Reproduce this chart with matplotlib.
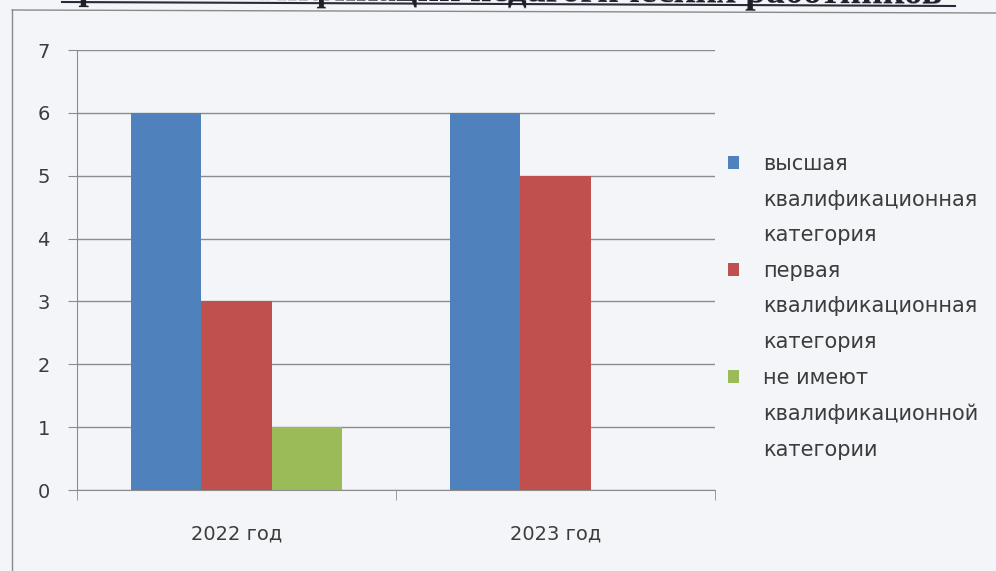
import matplotlib.pyplot as plt
from matplotlib.patches import Patch
from matplotlib.lines import Line2D
import numpy as np

# данные диаграммы
years = ["2022 год", "2023 год"]
categories = [
    "высшая\nквалификационная\nкатегория",
    "первая\nквалификационная\nкатегория",
    "не имеют\nквалификационной\nкатегории",
]
vysshaya = [6, 6]
pervaya = [3, 5]
net_kategorii = [1, 0]
series = [vysshaya, pervaya, net_kategorii]
colors = ["#4F81BD", "#C0504D", "#9BBB59"]
title = "Уровень квалификации педагогических работников"

bg = "#f4f5f8"
grid_c = "#8c8c8c"
text_c = "#3c3c3c"
plt.rcParams['font.family'] = ['DejaVu Sans']

W, H = 996, 571
fig = plt.figure(figsize=(W / 100, H / 100), dpi=100, facecolor=bg)
ax = fig.add_axes([77 / W, 1 - 490 / H, (715 - 77) / W, (490 - 50) / H])
ax.set_facecolor(bg)

# столбцы
x = np.arange(len(years))
w = 0.22
for i, (vals, c) in enumerate(zip(series, colors)):
    ax.bar(x + (i - 1) * w, vals, width=w, color=c, zorder=3)

ax.set_xlim(-0.5, len(years) - 0.5)
ax.set_ylim(0, 7)
ax.set_yticks(range(0, 8))

# сетка и оси
ax.grid(axis='y', color=grid_c, linewidth=1, zorder=0)
for s in ['top', 'right']:
    ax.spines[s].set_visible(False)
for s in ['left', 'bottom']:
    ax.spines[s].set_color(grid_c)

ax.tick_params(axis='y', length=6.5, color=grid_c, pad=13, labelsize=14, labelcolor=text_c)
ax.set_xticks(x)
ax.set_xticklabels(years)
ax.set_xticks(np.arange(len(years) + 1) - 0.5, minor=True)
ax.tick_params(axis='x', which='major', length=0, pad=25, labelsize=14, labelcolor=text_c)
ax.tick_params(axis='x', which='minor', length=7, color=grid_c)

# легенда: каждая строка подписи - отдельная запись
handles, labels = [], []
for lab, c in zip(categories, colors):
    for j, line in enumerate(lab.split("\n")):
        if j == 0:
            handles.append(Patch(facecolor=c, edgecolor='none'))
        else:
            handles.append(Patch(facecolor='none', edgecolor='none'))
        labels.append(line)
leg = fig.legend(handles, labels, loc='upper left', bbox_to_anchor=(728 / W, 1 - 154 / H),
                 frameon=False, handlelength=0.55, handleheight=0.55, handletextpad=1.15,
                 labelspacing=0.75, fontsize=15, borderaxespad=0, borderpad=0)
for t in leg.get_texts():
    t.set_color(text_c)

# заголовок (обрезан сверху и чуть наклонён, как на скане)
fig.text(0.5, 1 - 1.5 / H, title, ha='center', va='baseline', rotation=-0.3,
         rotation_mode='anchor', family='Liberation Serif', fontweight='bold',
         fontsize=27, color='#1e1e28')
fig.add_artist(Line2D([62 / W, 955 / W], [1 - 2 / H, 1 - 6 / H], color='#2a2a3a', linewidth=1.5))

# рамка
fig.add_artist(Line2D([12 / W, 1], [1 - 10 / H, 1 - 13 / H], color='#8a8a8a', linewidth=1))
fig.add_artist(Line2D([12 / W, 12 / W], [0, 1 - 10 / H], color='#8a8a8a', linewidth=1))

plt.savefig("out.png", dpi=100, facecolor=bg)
